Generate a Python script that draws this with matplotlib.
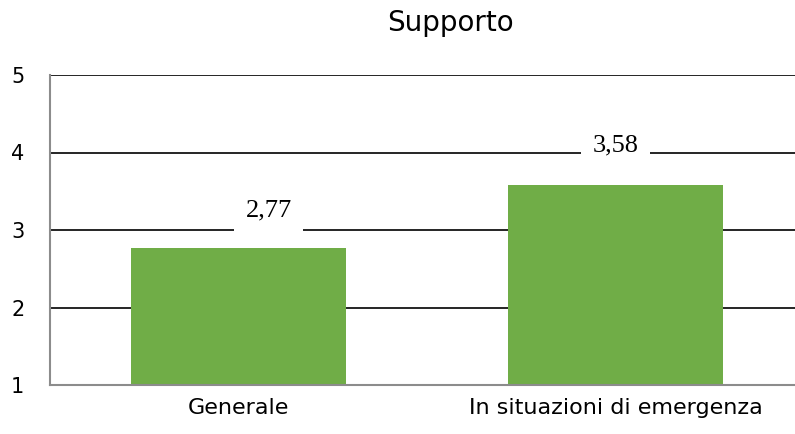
import matplotlib.pyplot as plt

# dati
categorie = ['Generale', 'In situazioni di emergenza']
valori = [2.77, 3.58]
etichette = ['2,77', '3,58']
y_ticks = [1, 2, 3, 4, 5]

plt.rcParams['font.family'] = ['DejaVu Sans']

fig = plt.figure(figsize=(7.95, 4.34), dpi=100)
ax = fig.add_axes([50 / 795, 1 - 385 / 434, 1 - 50 / 795, 310 / 434])

x = range(len(categorie))
ax.bar(x, [v - 1 for v in valori], bottom=1, width=0.57, color='#70AD47', zorder=3)

ax.set_ylim(1, 5)
ax.set_xlim(-0.5, 1.476)
ax.set_yticks(y_ticks)
ax.set_xticks(list(x))
ax.set_xticklabels(categorie, fontsize=16)
ax.tick_params(axis='y', labelsize=15, length=0, pad=28)
ax.tick_params(axis='x', length=0, pad=9)
for t in ax.get_yticklabels():
    t.set_horizontalalignment('left')
ax.grid(axis='y', color='black', linewidth=1.2, zorder=1)

for s in ['top', 'right']:
    ax.spines[s].set_visible(False)
for s in ['left', 'bottom']:
    ax.spines[s].set_color('#8c8c8c')
    ax.spines[s].set_linewidth(1.5)
    ax.spines[s].set_zorder(4)

# posizione delle etichette (spostamento in pixel)
spost = [(30, 37), (0, 40)]
for xi, v, lab, (dx, dy) in zip(x, valori, etichette, spost):
    ax.annotate(lab, (xi, v), xytext=(dx, dy), textcoords='offset pixels',
                ha='center', va='center', fontsize=19, family=['Liberation Serif', 'DejaVu Serif'],
                bbox=dict(facecolor='white', edgecolor='none', pad=8), zorder=5)

fig.text(450 / 795, 1 - 23 / 434, 'Supporto', ha='center', va='center', fontsize=20)

fig.savefig('out.png', dpi=100)
